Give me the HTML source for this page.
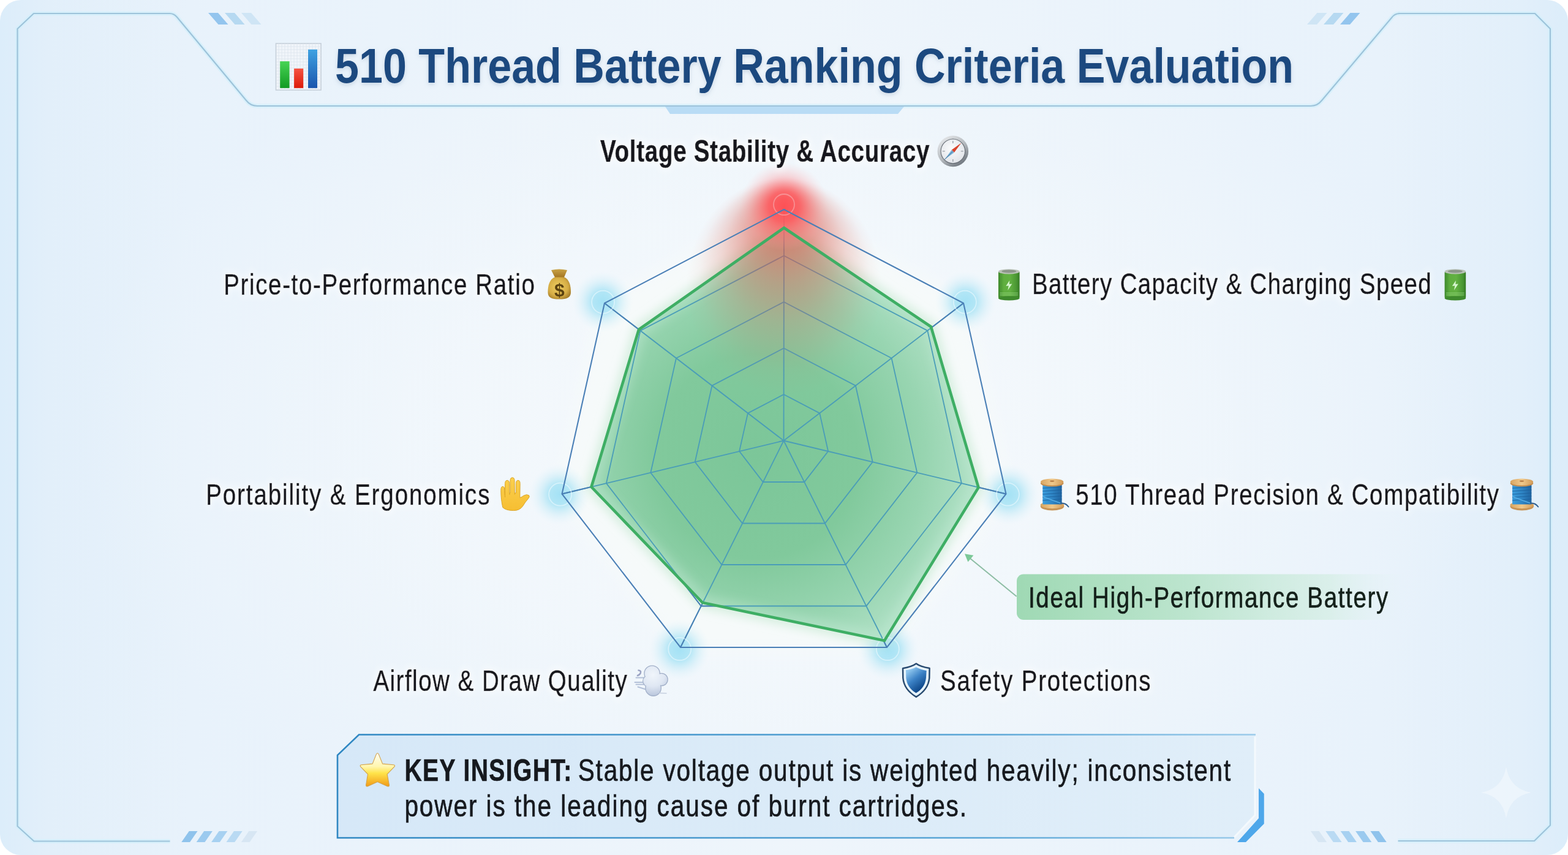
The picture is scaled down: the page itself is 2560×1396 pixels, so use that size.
<!DOCTYPE html>
<html lang="en"><head><meta charset="utf-8"><title>510 Thread Battery Ranking Criteria Evaluation</title>
<style>
html,body{margin:0;padding:0;background:#ffffff;}
body{width:2560px;height:1396px;overflow:hidden;}
svg{display:block;}
text{font-family:"Liberation Sans",Arial,Helvetica,sans-serif;}
</style></head>
<body>
<svg width="2560" height="1396" viewBox="0 0 2560 1396">
<defs>
  <linearGradient id="bgL" x1="0" y1="0" x2="1" y2="0">
    <stop offset="0" stop-color="#dcedfa"/>
    <stop offset="0.03" stop-color="#e2effa"/>
    <stop offset="0.12" stop-color="#e8f2fb"/>
    <stop offset="0.5" stop-color="#eef5fb"/>
    <stop offset="0.88" stop-color="#e8f2fb"/>
    <stop offset="0.97" stop-color="#e2effa"/>
    <stop offset="1" stop-color="#dcedfa"/>
  </linearGradient>
  <radialGradient id="bgGlow" cx="1280" cy="720" r="1000" gradientUnits="userSpaceOnUse" gradientTransform="translate(1280 720) scale(1.15 0.75) translate(-1280 -720)">
    <stop offset="0" stop-color="#f6f9fc" stop-opacity="1"/>
    <stop offset="0.5" stop-color="#f3f8fc" stop-opacity="0.75"/>
    <stop offset="0.8" stop-color="#f0f6fb" stop-opacity="0.35"/>
    <stop offset="1" stop-color="#eef5fb" stop-opacity="0"/>
  </radialGradient>
  <filter id="blur2" x="-20%" y="-20%" width="140%" height="140%"><feGaussianBlur stdDeviation="2"/></filter>
  <filter id="blur14" x="-20%" y="-20%" width="140%" height="140%"><feGaussianBlur stdDeviation="14"/></filter>
  <filter id="blur8" x="-50%" y="-50%" width="200%" height="200%"><feGaussianBlur stdDeviation="8"/></filter>
  <radialGradient id="gBlue">
    <stop offset="0" stop-color="#96def4" stop-opacity="0.85"/>
    <stop offset="0.35" stop-color="#9de0f4" stop-opacity="0.75"/>
    <stop offset="0.65" stop-color="#bce8f6" stop-opacity="0.4"/>
    <stop offset="1" stop-color="#e0f3fb" stop-opacity="0"/>
  </radialGradient>
  <radialGradient id="gRed">
    <stop offset="0" stop-color="#ff4f55" stop-opacity="0.95"/>
    <stop offset="0.35" stop-color="#ff5c61" stop-opacity="0.8"/>
    <stop offset="0.7" stop-color="#ff8a8e" stop-opacity="0.3"/>
    <stop offset="1" stop-color="#ffc0c2" stop-opacity="0"/>
  </radialGradient>
  <radialGradient id="gRedE" cx="0.5" cy="0.5" r="0.5" fx="0.5" fy="0.1">
    <stop offset="0" stop-color="#e6564a" stop-opacity="0.85"/>
    <stop offset="0.2" stop-color="#e0564a" stop-opacity="0.68"/>
    <stop offset="0.43" stop-color="#d8584a" stop-opacity="0.42"/>
    <stop offset="0.63" stop-color="#d85a4a" stop-opacity="0.22"/>
    <stop offset="0.87" stop-color="#d86a5a" stop-opacity="0.05"/>
    <stop offset="1" stop-color="#d87a6a" stop-opacity="0"/>
  </radialGradient>
  <radialGradient id="gFill" cx="1235" cy="745" r="370" gradientUnits="userSpaceOnUse">
    <stop offset="0" stop-color="#7cc699"/>
    <stop offset="0.45" stop-color="#81c99c"/>
    <stop offset="0.75" stop-color="#98d5b1"/>
    <stop offset="1" stop-color="#b3e2c8"/>
  </radialGradient>
  <linearGradient id="gKey" x1="0" y1="0" x2="1" y2="0">
    <stop offset="0" stop-color="#d6e8f8"/>
    <stop offset="0.5" stop-color="#dbebf8"/>
    <stop offset="1" stop-color="#e0eef9"/>
  </linearGradient>
  <linearGradient id="gKeyStroke" x1="551" y1="0" x2="2050" y2="0" gradientUnits="userSpaceOnUse">
    <stop offset="0" stop-color="#2f87c2"/>
    <stop offset="0.7" stop-color="#5aa6d6"/>
    <stop offset="1" stop-color="#9ccbea"/>
  </linearGradient>
  <linearGradient id="gIdeal" x1="1660" y1="0" x2="2300" y2="0" gradientUnits="userSpaceOnUse">
    <stop offset="0" stop-color="#9fd9b4"/>
    <stop offset="0.45" stop-color="#bde5cf"/>
    <stop offset="0.8" stop-color="#d6eee6" stop-opacity="0.8"/>
    <stop offset="1" stop-color="#e4f2f6" stop-opacity="0"/>
  </linearGradient>
  <linearGradient id="barG" x1="0" y1="0" x2="0" y2="1"><stop offset="0" stop-color="#48d455"/><stop offset="1" stop-color="#119a22"/></linearGradient>
  <linearGradient id="barR" x1="0" y1="0" x2="0" y2="1"><stop offset="0" stop-color="#f65342"/><stop offset="1" stop-color="#dc1a08"/></linearGradient>
  <linearGradient id="barB" x1="0" y1="0" x2="0" y2="1"><stop offset="0" stop-color="#3fa2e2"/><stop offset="1" stop-color="#1a55ad"/></linearGradient>
  <linearGradient id="compRing" x1="0.2" y1="0.1" x2="0.8" y2="0.95"><stop offset="0" stop-color="#dfe2e5"/><stop offset="0.5" stop-color="#b4b9be"/><stop offset="1" stop-color="#6d747c"/></linearGradient>
  <radialGradient id="compDial" cx="0.45" cy="0.4" r="0.6"><stop offset="0" stop-color="#fbfcfd"/><stop offset="1" stop-color="#e2e5ea"/></radialGradient>
  <linearGradient id="bagNeck" x1="0" y1="0" x2="0" y2="1"><stop offset="0" stop-color="#c9a347"/><stop offset="1" stop-color="#a0711f"/></linearGradient>
  <radialGradient id="bagBody" cx="0.45" cy="0.45" r="0.6"><stop offset="0" stop-color="#efcf62"/><stop offset="0.7" stop-color="#d6ad45"/><stop offset="1" stop-color="#a8802c"/></radialGradient>
  <linearGradient id="batBody" x1="0" y1="0" x2="1" y2="0"><stop offset="0" stop-color="#3e8a2c"/><stop offset="0.25" stop-color="#5fae3f"/><stop offset="0.55" stop-color="#62b142"/><stop offset="0.85" stop-color="#4a9733"/><stop offset="1" stop-color="#347a24"/></linearGradient>
  <linearGradient id="woodTop" x1="0" y1="0" x2="1" y2="0"><stop offset="0" stop-color="#d8a460"/><stop offset="0.5" stop-color="#f0c98c"/><stop offset="1" stop-color="#d29b58"/></linearGradient>
  <linearGradient id="threadG" x1="0" y1="0" x2="1" y2="0"><stop offset="0" stop-color="#3a9ede"/><stop offset="0.5" stop-color="#2f86c6"/><stop offset="1" stop-color="#1f63a0"/></linearGradient>
  <linearGradient id="handG" x1="0" y1="0" x2="0" y2="1"><stop offset="0" stop-color="#fbd04e"/><stop offset="1" stop-color="#f6be32"/></linearGradient>
  <radialGradient id="cloudG" cx="0.45" cy="0.4" r="0.6"><stop offset="0" stop-color="#eef3fa"/><stop offset="0.75" stop-color="#cfd9ea"/><stop offset="1" stop-color="#9ba9c2"/></radialGradient>
  <linearGradient id="shieldG" x1="0.2" y1="0.1" x2="0.7" y2="0.9"><stop offset="0" stop-color="#8ec6ee"/><stop offset="0.45" stop-color="#3c82c6"/><stop offset="1" stop-color="#0b4486"/></linearGradient>
  <linearGradient id="starG" x1="0" y1="0" x2="0" y2="1"><stop offset="0" stop-color="#fffdf2"/><stop offset="0.4" stop-color="#fff6b0"/><stop offset="0.6" stop-color="#ffe44a"/><stop offset="1" stop-color="#f19a18"/></linearGradient>
  <mask id="outsideData" maskUnits="userSpaceOnUse" x="0" y="0" width="2560" height="1396"><rect x="0" y="0" width="2560" height="1396" fill="#fff"/><polygon points="1280,372 1520,533.5 1597.5,796 1444,1046 1147,984 965.5,795 1043,538" fill="#000"/></mask>
  <filter id="blur06" x="-20%" y="-20%" width="140%" height="140%"><feGaussianBlur stdDeviation="0.7"/></filter>
  <radialGradient id="cloudFill" cx="36" cy="24" r="34" gradientUnits="userSpaceOnUse"><stop offset="0" stop-color="#f0f5fb"/><stop offset="0.55" stop-color="#dfe7f3"/><stop offset="1" stop-color="#b9c6dc"/></radialGradient>
  <clipPath id="insideData"><polygon points="1280,372 1520,533.5 1597.5,796 1444,1046 1147,984 965.5,795 1043,538"/></clipPath>
  <filter id="blur12" x="-20%" y="-20%" width="140%" height="140%"><feGaussianBlur stdDeviation="12"/></filter>
  <filter id="titleShadow" x="-5%" y="-30%" width="110%" height="160%">
    <feGaussianBlur in="SourceAlpha" stdDeviation="3.5" result="b"/>
    <feOffset in="b" dx="0" dy="3" result="o"/>
    <feFlood flood-color="#6f8cab" flood-opacity="0.28"/>
    <feComposite in2="o" operator="in" result="s"/>
    <feMerge><feMergeNode in="s"/><feMergeNode in="SourceGraphic"/></feMerge>
  </filter>
  <filter id="halo" x="-10%" y="-50%" width="120%" height="200%">
    <feMorphology in="SourceAlpha" operator="dilate" radius="2.5" result="d"/>
    <feGaussianBlur in="d" stdDeviation="6" result="b"/>
    <feFlood flood-color="#ffffff" flood-opacity="0.6"/>
    <feComposite in2="b" operator="in" result="h"/>
    <feMerge><feMergeNode in="h"/><feMergeNode in="SourceGraphic"/></feMerge>
  </filter>
</defs>

<!-- CARD BACKGROUND -->
<rect x="0" y="0" width="2560" height="1396" rx="34" fill="url(#bgL)"/>
<rect x="0" y="0" width="2560" height="1396" rx="34" fill="url(#bgGlow)"/>

<!-- FRAME GLOW -->
<g fill="none" stroke="#d2effb" stroke-width="7" stroke-opacity="0.7" stroke-linejoin="round">
  <!-- left bracket -->
  <path d="M277 22 L55 22 L28.5 47 L28.5 1349 L55.5 1373.5 L277.5 1373.5"/>
  <!-- right bracket -->
  <path d="M2283 22 L2506 22 L2531 47 L2531 1347.5 L2505 1373 L2282.5 1373"/>
  <!-- header tab -->
  <path d="M277 22 Q284 22 289 28 L402 164 Q409 173 420 173 L2140 173 Q2151 173 2158 164 L2272 29 Q2277 22 2285 22"/>
</g>
<!-- FRAME -->
<g fill="none" stroke="#9dc3da" stroke-width="2.2" stroke-linejoin="round">
  <!-- left bracket -->
  <path d="M277 22 L55 22 L28.5 47 L28.5 1349 L55.5 1373.5 L277.5 1373.5"/>
  <!-- right bracket -->
  <path d="M2283 22 L2506 22 L2531 47 L2531 1347.5 L2505 1373 L2282.5 1373"/>
  <!-- header tab -->
  <path d="M277 22 Q284 22 289 28 L402 164 Q409 173 420 173 L2140 173 Q2151 173 2158 164 L2272 29 Q2277 22 2285 22"/>
</g>

<!-- HEADER DECOR STRIPES -->
<g>
  <path d="M340 21 L356 21 L372.5 40 L356.5 40 Z" fill="#93c5ee"/>
  <path d="M367 21 L383 21 L399.5 40 L383.5 40 Z" fill="#b6d9f1"/>
  <path d="M394 21 L410 21 L426.5 40 L410.5 40 Z" fill="#cfe5f5"/>
  <path d="M2220.5 21 L2204.5 21 L2188 40 L2204 40 Z" fill="#93c5ee"/>
  <path d="M2193.5 21 L2177.5 21 L2161 40 L2177 40 Z" fill="#b6d9f1"/>
  <path d="M2166.5 21 L2150.5 21 L2134 40 L2150 40 Z" fill="#cfe5f5"/>
</g>
<!-- header underline tab -->
<path d="M1086 174 L1476 174 L1466 186 L1094 186 Z" fill="#b9dcf5"/>


<!--CHART-START-->
<!-- RADAR CHART -->
<polygon points="1280.0,334.4 1578.9,490.5 1649.8,808.2 1451.4,1063.8 1107.6,1063.8 910.3,808.2 981.1,490.5" fill="#f7fbfa" fill-opacity="0.75" filter="url(#blur14)"/>
<circle cx="1576.2" cy="492.6" r="50" fill="url(#gBlue)"/>
<circle cx="1646.4" cy="807.4" r="50" fill="url(#gBlue)"/>
<circle cx="1449.8" cy="1060.6" r="50" fill="url(#gBlue)"/>
<circle cx="1109.2" cy="1060.6" r="50" fill="url(#gBlue)"/>
<circle cx="913.6" cy="807.4" r="50" fill="url(#gBlue)"/>
<circle cx="983.8" cy="492.6" r="50" fill="url(#gBlue)"/>
<polygon points="1280,372 1520,533.5 1597.5,796 1444,1046 1147,984 965.5,795 1043,538" fill="none" stroke="#bfe6cc" stroke-width="18" stroke-opacity="0.6" filter="url(#blur8)"/>
<polygon points="1280,372 1520,533.5 1597.5,796 1444,1046 1147,984 965.5,795 1043,538" fill="url(#gFill)"/>
<polygon points="1280,372 1520,533.5 1597.5,796 1444,1046 1147,984 965.5,795 1043,538" fill="none" stroke="#c2e8d2" stroke-width="24" stroke-opacity="0.45" filter="url(#blur8)" clip-path="url(#insideData)"/>
<g fill="none" stroke="#4a9db8" stroke-width="1.8">
<polygon points="1279.6,644.0 1338.2,674.6 1352.1,736.9 1313.2,787.0 1245.8,787.0 1207.1,736.9 1221.0,674.6"/>
<polygon points="1279.7,568.5 1396.9,629.7 1424.7,754.3 1346.9,854.5 1212.1,854.5 1134.7,754.3 1162.5,629.7"/>
<polygon points="1279.8,493.0 1455.6,584.8 1497.3,771.7 1380.6,922.0 1178.4,922.0 1062.3,771.7 1104.0,584.8"/>
<polygon points="1279.9,417.5 1514.3,539.9 1569.9,789.1 1414.3,989.5 1144.7,989.5 989.9,789.1 1045.5,539.9"/>
<line x1="1279.5" y1="719.5" x2="1280" y2="342"/>
<line x1="1279.5" y1="719.5" x2="1573" y2="495"/>
<line x1="1279.5" y1="719.5" x2="1642.5" y2="806.5"/>
<line x1="1279.5" y1="719.5" x2="1448" y2="1057"/>
<line x1="1279.5" y1="719.5" x2="1111" y2="1057"/>
<line x1="1279.5" y1="719.5" x2="917.5" y2="806.5"/>
<line x1="1279.5" y1="719.5" x2="987" y2="495"/>
</g>
<g fill="none" stroke="#4a80b6" stroke-width="1.9" mask="url(#outsideData)">
<line x1="1279.5" y1="719.5" x2="1280" y2="342"/>
<line x1="1279.5" y1="719.5" x2="1573" y2="495"/>
<line x1="1279.5" y1="719.5" x2="1642.5" y2="806.5"/>
<line x1="1279.5" y1="719.5" x2="1448" y2="1057"/>
<line x1="1279.5" y1="719.5" x2="1111" y2="1057"/>
<line x1="1279.5" y1="719.5" x2="917.5" y2="806.5"/>
<line x1="1279.5" y1="719.5" x2="987" y2="495"/>
<polygon points="1279.9,417.5 1514.3,539.9 1569.9,789.1 1414.3,989.5 1144.7,989.5 989.9,789.1 1045.5,539.9"/>
</g>
<ellipse cx="1280" cy="468" rx="160" ry="178" fill="url(#gRedE)"/>
<circle cx="1280" cy="337" r="72" fill="url(#gRed)"/>
<g fill="none" stroke="#f2fbff" stroke-width="1.8" stroke-opacity="0.55" filter="url(#blur06)">
<circle cx="1280" cy="334" r="17" stroke-opacity="0.3"/>
<circle cx="1575.4" cy="493.2" r="18.5"/>
<circle cx="1645.4" cy="807.2" r="18.5"/>
<circle cx="1449.3" cy="1059.7" r="18.5"/>
<circle cx="1109.7" cy="1059.7" r="18.5"/>
<circle cx="914.6" cy="807.2" r="18.5"/>
<circle cx="984.6" cy="493.2" r="18.5"/>
</g>
<polygon points="1280.0,342.0 1573.0,495.0 1642.5,806.5 1448.0,1057.0 1111.0,1057.0 917.5,806.5 987.0,495.0" fill="none" stroke="#4a7fb6" stroke-width="2.1" stroke-linejoin="miter"/>
<polygon points="1280,372 1520,533.5 1597.5,796 1444,1046 1147,984 965.5,795 1043,538" fill="none" stroke="#3eae64" stroke-width="4.6" stroke-linejoin="miter"/>
<!--CHART-END-->
<!--DECOR-START-->
<path d="M296.25 1375 L310.00 1375 L322.50 1357 L308.75 1357 Z" fill="#8fc3ec"/>
<path d="M320.65 1375 L334.40 1375 L346.90 1357 L333.15 1357 Z" fill="#9bcaef"/>
<path d="M345.05 1375 L358.80 1375 L371.30 1357 L357.55 1357 Z" fill="#a7d1f1"/>
<path d="M369.45 1375 L383.20 1375 L395.70 1357 L381.95 1357 Z" fill="#b9daf3"/>
<path d="M393.85 1375 L407.60 1375 L420.10 1357 L406.35 1357 Z" fill="#d7e6f3"/>
<path d="M2263.75 1375 L2250.00 1375 L2237.50 1357 L2251.25 1357 Z" fill="#8fc3ec"/>
<path d="M2239.35 1375 L2225.60 1375 L2213.10 1357 L2226.85 1357 Z" fill="#9bcaef"/>
<path d="M2214.95 1375 L2201.20 1375 L2188.70 1357 L2202.45 1357 Z" fill="#a7d1f1"/>
<path d="M2190.55 1375 L2176.80 1375 L2164.30 1357 L2178.05 1357 Z" fill="#b9daf3"/>
<path d="M2166.15 1375 L2152.40 1375 L2139.90 1357 L2153.65 1357 Z" fill="#d7e6f3"/>
<path d="M2459 1252 Q2465 1288 2500 1294 Q2465 1300 2459 1336 Q2453 1300 2418 1294 Q2453 1288 2459 1252 Z" fill="#f4f9fd" fill-opacity="0.6"/>
<path d="M551 1233 L586 1199.5 L2049 1199.5 L2049 1331 L2015 1368 L551 1368 Z" fill="url(#gKey)"/>
<path d="M2049 1203 L2049 1331 L2015 1367" fill="none" stroke="#f4f9fd" stroke-width="3"/>
<path d="M2015 1368 L551 1368 L551 1233 L586 1199.5 L2050 1199.5" fill="none" stroke="url(#gKeyStroke)" stroke-width="2.6" stroke-linejoin="miter"/>
<path d="M2055 1287 L2063.75 1296 L2063.75 1345 L2034 1375 L2020 1375 L2055 1336 Z" fill="#4ea7ea"/>
<rect x="1660" y="937.5" width="640" height="74.5" rx="11" fill="url(#gIdeal)"/>
<line x1="1659.6" y1="973.8" x2="1583" y2="911" stroke="#8dbda4" stroke-width="2"/>
<path d="M1575 904.3 L1589.4 906.8 L1580.4 917.6 Z" fill="#7cc898"/>
<!--DECOR-END-->
<!--LABELS-START-->
<text id="t_title" filter="url(#titleShadow)" x="547.0" y="135.3" font-size="80" font-weight="700" fill="#1c4a7f" textLength="1565.0" lengthAdjust="spacingAndGlyphs">510 Thread Battery Ranking Criteria Evaluation</text>
<text id="t_voltage" filter="url(#halo)" transform="matrix(0.78 0 0 1 980.0 264.4)" x="0" y="0" font-size="49.5" font-weight="700" fill="#16191e" stroke="#16191e" stroke-width="0.65" textLength="689.0" lengthAdjust="spacing">Voltage Stability &amp; Accuracy</text>
<text id="t_price" filter="url(#halo)" transform="matrix(0.81 0 0 1 365.2 480.5)" x="0" y="0" font-size="47.5" font-weight="400" fill="#16191e" stroke="#16191e" stroke-width="0.65" textLength="626.7" lengthAdjust="spacing">Price-to-Performance Ratio</text>
<text id="t_battery" filter="url(#halo)" transform="matrix(0.81 0 0 1 1685.0 480.1)" x="0" y="0" font-size="47.5" font-weight="400" fill="#16191e" stroke="#16191e" stroke-width="0.65" textLength="804.5" lengthAdjust="spacing">Battery Capacity &amp; Charging Speed</text>
<text id="t_thread" filter="url(#halo)" transform="matrix(0.81 0 0 1 1756.2 823.8)" x="0" y="0" font-size="47.5" font-weight="400" fill="#16191e" stroke="#16191e" stroke-width="0.65" textLength="852.8" lengthAdjust="spacing">510 Thread Precision &amp; Compatibility</text>
<text id="t_portab" filter="url(#halo)" transform="matrix(0.81 0 0 1 336.2 824.2)" x="0" y="0" font-size="47.5" font-weight="400" fill="#16191e" stroke="#16191e" stroke-width="0.65" textLength="571.9" lengthAdjust="spacing">Portability &amp; Ergonomics</text>
<text id="t_airflow" filter="url(#halo)" transform="matrix(0.81 0 0 1 609.4 1128)" x="0" y="0" font-size="47.5" font-weight="400" fill="#16191e" stroke="#16191e" stroke-width="0.65" textLength="511.4" lengthAdjust="spacing">Airflow &amp; Draw Quality</text>
<text id="t_safety" filter="url(#halo)" transform="matrix(0.81 0 0 1 1535.0 1127.9)" x="0" y="0" font-size="47.5" font-weight="400" fill="#16191e" stroke="#16191e" stroke-width="0.65" textLength="424.2" lengthAdjust="spacing">Safety Protections</text>
<text id="t_ideal" transform="matrix(0.81 0 0 1 1679.0 991.7)" x="0" y="0" font-size="47.5" font-weight="400" fill="#14201a" stroke="#14201a" stroke-width="0.65" textLength="725.0" lengthAdjust="spacing">Ideal High-Performance Battery</text>
<text id="t_key1b" transform="matrix(0.78 0 0 1 660.4 1275.3)" x="0" y="0" font-size="50" font-weight="700" fill="#16191e" stroke="#16191e" stroke-width="0.65" textLength="349.7" lengthAdjust="spacing">KEY INSIGHT:</text>
<text id="t_key1" transform="matrix(0.81 0 0 1 943.8 1275.3)" x="0" y="0" font-size="50" font-weight="400" fill="#16191e" stroke="#16191e" stroke-width="0.65" textLength="1315.3" lengthAdjust="spacing">Stable voltage output is weighted heavily; inconsistent</text>
<text id="t_key2" transform="matrix(0.81 0 0 1 660.4 1333)" x="0" y="0" font-size="50" font-weight="400" fill="#16191e" stroke="#16191e" stroke-width="0.65" textLength="1132.9" lengthAdjust="spacing">power is the leading cause of burnt cartridges.</text>
<!--LABELS-END-->
<!--ICONS-START-->
<g>
<rect x="450.5" y="71" width="73.5" height="76" fill="#f1f5fa" stroke="#c5cfd9" stroke-width="1.6"/>
<path d="M451 76h73M451 81h73M451 86h73M451 91h73M451 96h73M451 101h73M451 106h73M451 111h73M451 116h73M451 121h73M451 126h73M451 131h73M451 136h73M451 141h73M455 71v76M460 71v76M465 71v76M470 71v76M475 71v76M480 71v76M485 71v76M490 71v76M495 71v76M500 71v76M505 71v76M510 71v76M515 71v76M520 71v76" stroke="#dde5ee" stroke-width="0.8"/>
<rect x="457.2" y="100.1" width="15.4" height="43.7" fill="url(#barG)"/>
<rect x="480.1" y="111.9" width="15.1" height="31.9" fill="url(#barR)"/>
<rect x="503" y="80.8" width="15" height="63" fill="url(#barB)"/>
</g>
<g>
<circle cx="1555.8" cy="246.9" r="25.3" fill="url(#compRing)"/>
<circle cx="1555.8" cy="246.9" r="20.3" fill="#5e656d"/>
<circle cx="1555.8" cy="246.9" r="19.3" fill="url(#compDial)"/>
<path d="M1555.8 229.9v4M1555.8 259.9v4M1538.8 246.9h4M1568.8 246.9h4" stroke="#9aa0a8" stroke-width="1.4"/>
<path d="M1569.5 233.2 L1557.9 249 L1553.7 244.8 Z" fill="#d8432c"/>
<path d="M1542.1 260.6 L1557.9 249 L1553.7 244.8 Z" fill="#7fb4d8"/>
<path d="M1542.1 260.6 L1555.8 246.9" stroke="#3d6f98" stroke-width="1"/>
</g>
<g>
<path d="M900 441 Q913 438 926 441 L920.5 454 L906.5 454 Z" fill="url(#bagNeck)"/>
<path d="M906 452.5 C897 456 894.5 466 894.5 477 C894.5 485.5 900 488.6 913 488.6 C926 488.6 932 485.5 932 477 C932 466 929.5 456 921 452.5 Z" fill="url(#bagBody)"/>
<text x="913.3" y="483.5" font-size="30" font-weight="700" fill="#5b4210" text-anchor="middle">$</text>
</g>
<g>
<rect x="1630.0" y="443" width="34.6" height="44" rx="2" fill="url(#batBody)"/>
<ellipse cx="1647.3" cy="487" rx="17.3" ry="3.4" fill="#3f8a2e"/>
<ellipse cx="1647.3" cy="443.4" rx="17.3" ry="4" fill="#b9c2b6"/>
<ellipse cx="1647.3" cy="443" rx="12" ry="2.4" fill="#8c968a"/>
<path d="M1648.3 458 L1642.3 467 L1646.8 466.5 L1645.3 474 L1652.3 463.5 L1647.8 464 Z" fill="#d6f5cf"/>
<path d="M1632.5 478.5h29.6M1632.5 481.5h29.6" stroke="#9fdc8e" stroke-width="0.9" stroke-opacity="0.8"/>
</g>
<g>
<rect x="2358.6" y="443" width="34.6" height="44" rx="2" fill="url(#batBody)"/>
<ellipse cx="2375.9" cy="487" rx="17.3" ry="3.4" fill="#3f8a2e"/>
<ellipse cx="2375.9" cy="443.4" rx="17.3" ry="4" fill="#b9c2b6"/>
<ellipse cx="2375.9" cy="443" rx="12" ry="2.4" fill="#8c968a"/>
<path d="M2376.9 458 L2370.9 467 L2375.4 466.5 L2373.9 474 L2380.9 463.5 L2376.4 464 Z" fill="#d6f5cf"/>
<path d="M2361.1 478.5h29.6M2361.1 481.5h29.6" stroke="#9fdc8e" stroke-width="0.9" stroke-opacity="0.8"/>
</g>
<g>
<ellipse cx="1718.0" cy="826.8" rx="19.3" ry="6.6" fill="#c99455"/>
<ellipse cx="1718.0" cy="824.6" rx="19.3" ry="5.6" fill="url(#woodTop)"/>
<rect x="1702.3" y="791" width="31.3" height="32.5" fill="url(#threadG)"/>
<path d="M1702.3 797 L1733.6 795 M1702.3 802 L1733.6 800 M1702.3 807 L1733.6 805 M1702.3 812 L1733.6 810 M1702.3 817 L1733.6 815" stroke="#1d5f99" stroke-width="1.3" stroke-opacity="0.6"/>
<path d="M1703.0 811 Q1721.0 818 1733.0 822" stroke="#55aee6" stroke-width="1.6" fill="none"/>
<path d="M1732.0 821.5 Q1740.0 821 1744.5 827.5" stroke="#2c5d8f" stroke-width="2" fill="none" stroke-linecap="round"/>
<ellipse cx="1717.7" cy="789.2" rx="18.7" ry="5.4" fill="#c38d4f"/>
<ellipse cx="1717.7" cy="787" rx="18.7" ry="5.5" fill="url(#woodTop)"/>
<ellipse cx="1717.7" cy="785.6" rx="3.6" ry="1.3" fill="#b98048"/>
</g>
<g>
<ellipse cx="2484.8" cy="826.8" rx="19.3" ry="6.6" fill="#c99455"/>
<ellipse cx="2484.8" cy="824.6" rx="19.3" ry="5.6" fill="url(#woodTop)"/>
<rect x="2469.1000000000004" y="791" width="31.3" height="32.5" fill="url(#threadG)"/>
<path d="M2469.1000000000004 797 L2500.4 795 M2469.1000000000004 802 L2500.4 800 M2469.1000000000004 807 L2500.4 805 M2469.1000000000004 812 L2500.4 810 M2469.1000000000004 817 L2500.4 815" stroke="#1d5f99" stroke-width="1.3" stroke-opacity="0.6"/>
<path d="M2469.8 811 Q2487.8 818 2499.8 822" stroke="#55aee6" stroke-width="1.6" fill="none"/>
<path d="M2498.8 821.5 Q2506.8 821 2511.3 827.5" stroke="#2c5d8f" stroke-width="2" fill="none" stroke-linecap="round"/>
<ellipse cx="2484.5" cy="789.2" rx="18.7" ry="5.4" fill="#c38d4f"/>
<ellipse cx="2484.5" cy="787" rx="18.7" ry="5.5" fill="url(#woodTop)"/>
<ellipse cx="2484.5" cy="785.6" rx="3.6" ry="1.3" fill="#b98048"/>
</g>
<g transform="translate(805 770)">
<path d="M15.8 58.5 C13.8 50 12.8 41 12.8 30.5 Q12.8 24.3 15.8 24.3 Q18.8 24.3 18.8 30.5 L19.4 38.5 L19.6 19.6 Q19.6 14.3 23.1 14.3 Q26.6 14.3 26.6 19.6 L26.8 35 L28 35 L28 14.8 Q28 9.8 31.5 9.8 Q35 9.8 35 14.8 L35.3 35 L37.4 35 L37.4 19.6 Q37.4 14.3 40.8 14.3 Q44.1 14.3 44.1 19.6 L43.8 42.5 Q46.5 42 50 39.2 Q55 36.3 58.6 38.8 Q60.5 41 57.2 44.5 Q52.5 49.5 48.5 56.5 Q43.5 63.6 33.5 63.6 Q21 63.6 15.8 58.5 Z" fill="url(#handG)" stroke="#d79e1e" stroke-width="0.9"/>
<path d="M19.4 38.5 L19.6 42 M26.8 35 L27 38 M35.3 35 L35.3 37.5" stroke="#d9a227" stroke-width="1"/>
</g>
<g transform="translate(1030 1078)">
<path d="M12.5 16.5 Q17.5 17 15.5 21.5 Q14 24 11 25" stroke="#9ca4c4" stroke-width="2.6" fill="none" stroke-linecap="round"/>
<path d="M8.5 28.5 L25 28.5 M6.5 36 L25 36 M8.5 39.5 L25 39.5 M11.5 43.5 L24 47.5" stroke="#b3c0d8" stroke-width="2" stroke-linecap="round"/>
<g fill="#a2b0c9">
<circle cx="34.6" cy="21.5" r="13.3"/><circle cx="50" cy="31.5" r="10.8"/><circle cx="36.6" cy="45.5" r="13.4"/><circle cx="29" cy="34" r="10"/><circle cx="40" cy="33" r="12"/>
</g>
<g fill="url(#cloudFill)">
<circle cx="34.6" cy="21.5" r="12"/><circle cx="50" cy="31.5" r="9.5"/><circle cx="36.6" cy="45.5" r="12.1"/><circle cx="29" cy="34" r="8.8"/><circle cx="40" cy="33" r="11"/>
</g>
<path d="M46 53.5 L58 54" stroke="#c6d0df" stroke-width="1.4" stroke-linecap="round"/>
</g>
<g transform="translate(1465 1076)">
<path d="M30.8 7.5 Q24 12.5 9 15.3 L9.3 31 Q11 50 30.8 61.9 Q50.6 50 52.3 31 L52.6 15 Q37.6 12.5 30.8 7.5 Z" fill="#e6f3fb" stroke="#284a6f" stroke-width="2.5" stroke-linejoin="round"/>
<path d="M30.6 13.3 Q24 17 14 18.3 L14.3 31 Q16 47 30.6 55.6 Q45.2 47 46.9 31 L47.6 19 Q37.6 17.3 30.6 13.3 Z" fill="url(#shieldG)"/>
</g>
<g transform="translate(580 1222)">
<path d="M36.3 7.8 Q37.6 7.8 38.6 10.4 L44.6 25.1 L62.6 26.7 Q65.6 27.4 63.8 29.9 L52.1 42.1 L55.4 59.5 Q55.6 63 52.3 61.7 L36.3 54.6 L20.6 61.7 Q17.4 63 17.6 59.5 L20.5 42.1 L8.8 29.9 Q7 27.4 10 26.7 L28.1 25.1 L34 10.4 Q35 7.8 36.3 7.8 Z" fill="url(#starG)" stroke="#d2a24a" stroke-width="1.1" stroke-linejoin="round"/>
</g>
<!--ICONS-END-->
</svg>
</body></html>
